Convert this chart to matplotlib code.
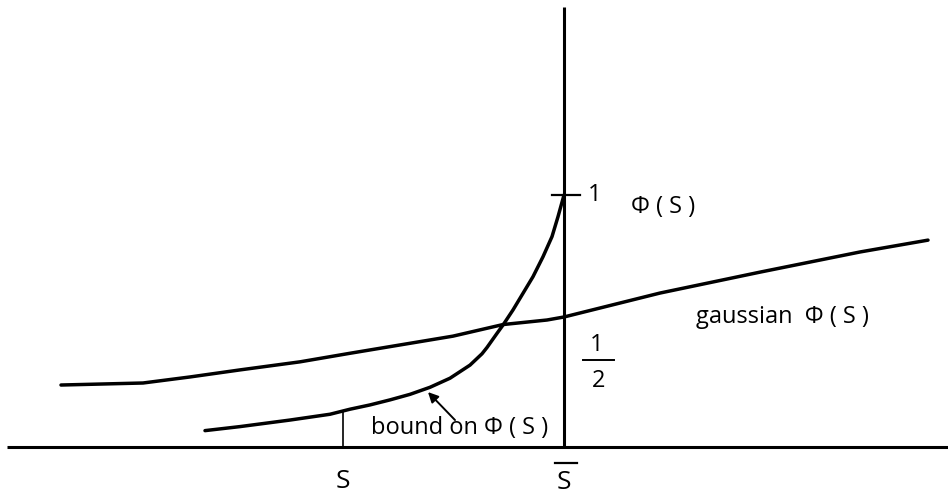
import matplotlib
matplotlib.use("Agg")
import matplotlib.pyplot as plt

# curves (x: S relative to S-bar, y: Phi, axis at 0, tick at 1)
gauss_x = [-5.03, -4.21, -3.74, -3.24, -2.64, -2.14, -1.11, -0.61, -0.17, 0.0,
           0.96, 1.96, 2.96, 3.64]
gauss_y = [0.246, 0.254, 0.278, 0.306, 0.338, 0.372, 0.440, 0.486, 0.504, 0.516,
           0.611, 0.694, 0.774, 0.821]

bound_x = [-3.59, -3.24, -2.74, -2.34, -2.14, -1.94, -1.74, -1.54, -1.34, -1.14,
           -0.94, -0.82, -0.77, -0.67, -0.61, -0.51, -0.41, -0.31, -0.21, -0.12,
           -0.06, 0.0]
bound_y = [0.065, 0.081, 0.107, 0.130, 0.150, 0.167, 0.187, 0.209, 0.237, 0.273,
           0.325, 0.370, 0.395, 0.451, 0.484, 0.544, 0.610, 0.676, 0.755, 0.835,
           0.914, 1.0]

s_value = -2.21
s_at_bound = 0.142
s_bar = 0.0
axis_x = [-5.57, 3.84]
axis_top = 1.746

plt.rcParams['font.family'] = ['Open Sans', 'DejaVu Sans']

fig = plt.figure(figsize=(9.48, 4.94), dpi=100)
ax = fig.add_axes([0, 0, 1, 1])
ax.set_xlim(-5.64, 3.84)
ax.set_ylim(-0.1865, 1.774)
ax.axis('off')

# axes of the sketch
ax.plot(axis_x, [0, 0], color='black', lw=2.2, solid_capstyle='butt')
ax.plot([s_bar, s_bar], [0, axis_top], color='black', lw=2.2, solid_capstyle='butt')
ax.plot([-0.12, 0.16], [1, 1], color='black', lw=1.6)

# the two curves
ax.plot(gauss_x, gauss_y, color='black', lw=2.5, solid_capstyle='round',
        solid_joinstyle='round')
ax.plot(bound_x, bound_y, color='black', lw=2.5, solid_capstyle='round',
        solid_joinstyle='round')

# marker at S
ax.plot([s_value, s_value], [0, s_at_bound], color='black', lw=1.2)

fs = 17
ax.text(0.31, 1.0, "1", fontsize=fs, ha='center', va='center')
ax.text(0.99, 0.952, "\u03A6 ( S )", fontsize=fs, ha='center', va='center')

ax.text(0.33, 0.405, "1", fontsize=fs, ha='center', va='center')
ax.plot([0.19, 0.50], [0.345, 0.345], color='black', lw=1.4)
ax.text(0.35, 0.262, "2", fontsize=fs, ha='center', va='center')

ax.text(s_value, -0.135, "S", fontsize=19, ha='center', va='center')
ax.text(s_bar, -0.139, "S", fontsize=19, ha='center', va='center')
ax.plot([-0.09, 0.13], [-0.063, -0.063], color='black', lw=1.6)

ax.text(-1.04, 0.075, "bound on \u03A6 ( S )", fontsize=fs, ha='center', va='center')
ax.annotate("", xy=(-1.36, 0.218), xytext=(-1.09, 0.107),
            arrowprops=dict(arrowstyle='-|>', color='black', lw=1.4,
                            mutation_scale=15, shrinkA=0, shrinkB=0))

ax.text(2.18, 0.516, "gaussian  \u03A6 ( S )", fontsize=fs, ha='center', va='center')

fig.savefig("out.png", dpi=100)
